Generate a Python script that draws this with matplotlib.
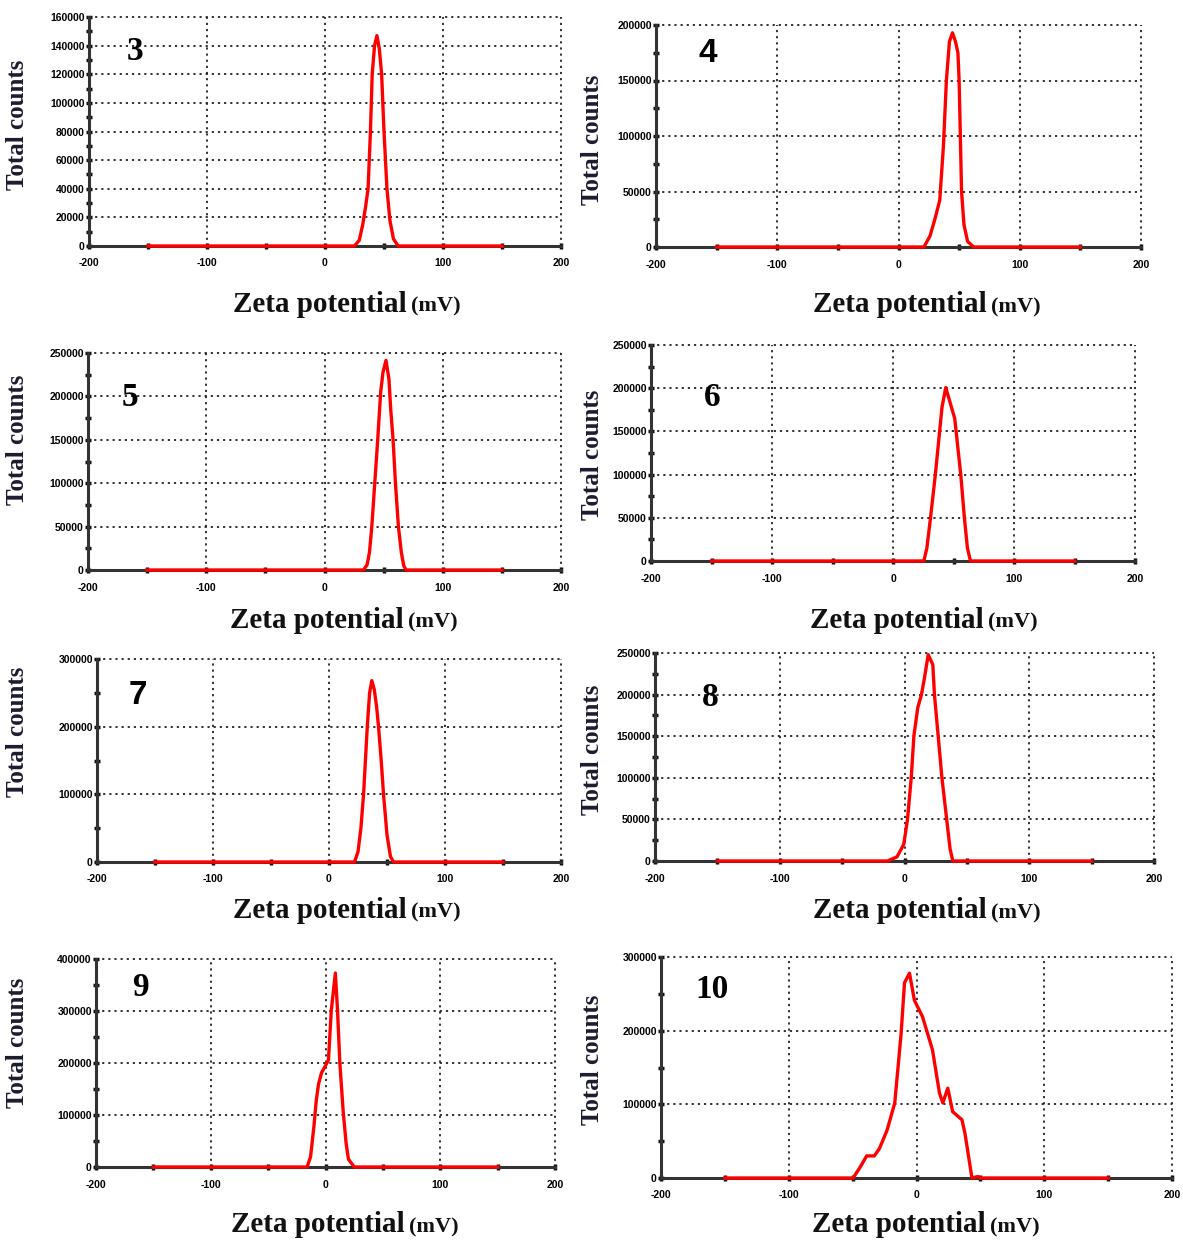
import matplotlib
matplotlib.use("Agg")
import matplotlib.pyplot as plt
from matplotlib.ticker import MultipleLocator

plt.rcParams["axes.unicode_minus"] = False

# ---------------- data ----------------
panel_names = ["3", "4", "5", "6", "7", "8", "9", "10"]

x3 = [-150, 25, 29, 32, 34.5, 36.5, 38.5, 40, 42, 44, 46, 48, 50, 52.5, 55, 58, 62, 150]
y3 = [0, 0, 4000, 15000, 28000, 40000, 80000, 120000, 140000, 147000, 138000, 120000, 80000, 40000, 18000, 5000, 0, 0]

x4 = [-150, 21, 26, 30, 34, 37, 39.5, 42, 44.5, 47, 49, 50, 51, 52, 54, 57, 62, 150]
y4 = [0, 0, 10000, 25000, 42000, 90000, 150000, 185000, 193000, 185000, 175000, 150000, 100000, 50000, 20000, 5000, 0, 0]

x5 = [-150, 33, 36, 38, 40, 42.5, 45, 47.5, 49.5, 52, 54.5, 56, 58, 60, 62.5, 65, 67, 69, 150]
y5 = [0, 0, 6000, 20000, 50000, 100000, 150000, 205000, 228000, 241500, 220000, 185000, 150000, 100000, 50000, 20000, 5000, 0, 0]

x6 = [-150, 25.5, 28, 31, 35, 40.5, 43.6, 51, 56, 59, 61.5, 64, 150]
y6 = [0, 0, 15000, 50000, 100000, 178000, 200800, 165000, 100000, 50000, 15000, 0, 0]

x7 = [-150, 22, 25, 27.5, 29.8, 33, 35, 36.9, 39, 41, 42.7, 45, 47, 50, 53, 55.7, 150]
y7 = [0, 0, 15000, 50000, 100000, 200000, 250000, 268000, 255000, 230000, 200000, 150000, 100000, 40000, 8000, 0, 0]

x8 = [-150, -13.6, -6, -0.6, 2.4, 5.4, 7.5, 10.6, 13.6, 16, 19, 22.7, 24, 27, 30, 33.8, 36.5, 38.7, 150]
y8 = [0, 0, 5000, 20000, 50000, 100000, 150000, 184000, 200000, 220000, 248000, 236000, 200000, 150000, 100000, 50000, 15000, 0, 0]

x9 = [-150, -16, -13, -10, -8, -6, -3.5, 0, 2.6, 5, 8.6, 10.5, 12.5, 15.5, 18, 20, 25, 150]
y9 = [0, 0, 20000, 80000, 129000, 160000, 181000, 195000, 206000, 300000, 373000, 300000, 200000, 104000, 45000, 15000, 0, 0]

x10 = [-150, -49.6, -44, -39, -33, -29, -23, -17, -12, -9.4, -5.5, -1.6, 4.7, 12.5, 18, 20.6, 24.5, 28.3, 35.6, 38, 43.4, 48, 50, 150]
y10 = [0, 0, 15000, 30000, 30000, 40000, 65000, 102000, 197000, 265000, 278000, 241000, 219000, 174000, 115000, 102000, 122000, 90000, 79000, 60000, 0, 2000, 0, 0]

xs = [x3, x4, x5, x6, x7, x8, x9, x10]
ys = [y3, y4, y5, y6, y7, y8, y9, y10]

y_max = [160000, 200000, 250000, 250000, 300000, 250000, 400000, 300000]
y_step = [20000, 50000, 50000, 50000, 100000, 50000, 100000, 100000]

x_limits = [-200, 200]
x_step = 100

x_label_main = "Zeta potential"
x_label_unit = "(mV)"
y_label = "Total counts"

# ---------------- layout (pixels) ----------------
W, H = 1183, 1241
# left, right, top, bottom of plot area
boxes = [
    (89, 561, 17, 246),
    (656, 1141, 25, 247),
    (88, 561, 353, 570),
    (651, 1135, 345, 561),
    (97, 561, 659, 862),
    (655, 1154, 653, 861),
    (96, 555, 959, 1167),
    (661, 1172, 957, 1178),
]
ylab_pos = [(18, 125), (592, 140), (18, 440), (592, 455),
            (18, 732), (592, 750), (18, 1043), (592, 1060)]
xlab_pos = [(407, 304), (987, 305), (404, 620), (984, 620),
            (407, 910), (987, 911), (405, 1225), (986, 1225)]
num_pos = [(135, 52), (708, 53), (130, 398), (712, 398),
           (138, 695), (710, 697), (140, 988), (712, 990)]
num_family = ["Liberation Serif", "Liberation Sans", "Liberation Serif", "Liberation Serif",
              "Liberation Sans", "Liberation Serif", "Liberation Serif", "Liberation Serif"]

fig = plt.figure(figsize=(W / 100, H / 100), dpi=100)
fig.patch.set_facecolor("white")

for i in range(8):
    l, r, t, b = boxes[i]
    ax = fig.add_axes([l / W, 1 - b / H, (r - l) / W, (b - t) / H])
    ax.set_xlim(*x_limits)
    ax.set_ylim(0, y_max[i])
    ax.xaxis.set_major_locator(MultipleLocator(x_step))
    ax.xaxis.set_minor_locator(MultipleLocator(x_step / 2))
    ax.yaxis.set_major_locator(MultipleLocator(y_step[i]))
    ax.yaxis.set_minor_locator(MultipleLocator(y_step[i] / 2))
    ax.grid(True, which="major", color="#222222", linestyle=(0, (1.2, 2.2)), linewidth=1.3)
    for g in ax.get_xgridlines() + ax.get_ygridlines():
        g.set_clip_on(False)
    for s in ["top", "right"]:
        ax.spines[s].set_visible(False)
    for s in ["left", "bottom"]:
        ax.spines[s].set_color("#333333")
        ax.spines[s].set_linewidth(2.2)
    ax.tick_params(which="both", direction="inout", length=4, width=2.5, color="#111111")
    ax.tick_params(axis="x", which="major", pad=7)
    ax.tick_params(axis="y", which="major", pad=1)
    ax.set_axisbelow(True)
    ax.plot(xs[i], ys[i], color="#ff0000", linewidth=2.4, zorder=4, clip_on=False)
    for lab in ax.get_xticklabels() + ax.get_yticklabels():
        lab.set_fontfamily("Liberation Sans")
        lab.set_fontweight("bold")
        lab.set_fontsize(7.5)
        lab.set_color("#000000")

    yx, yy = ylab_pos[i]
    fig.text(yx / W, 1 - yy / H, y_label, rotation=90, ha="center", va="center",
             fontfamily="Liberation Serif", fontweight="bold", fontsize=18, color="#1c1c30")
    sx, sy = xlab_pos[i]
    fig.text(sx / W, 1 - sy / H, x_label_main, ha="right", va="center",
             fontfamily="Liberation Serif", fontweight="bold", fontsize=21, color="#111111")
    fig.text((sx + 4) / W, 1 - (sy + 2) / H, x_label_unit, ha="left", va="center",
             fontfamily="Liberation Serif", fontweight="bold", fontsize=16, color="#111111")
    nx, ny = num_pos[i]
    fig.text(nx / W, 1 - ny / H, panel_names[i], ha="center", va="center",
             fontfamily=num_family[i], fontweight="bold", fontsize=24, color="#000000")

fig.savefig("out.png", dpi=100, facecolor="white")
